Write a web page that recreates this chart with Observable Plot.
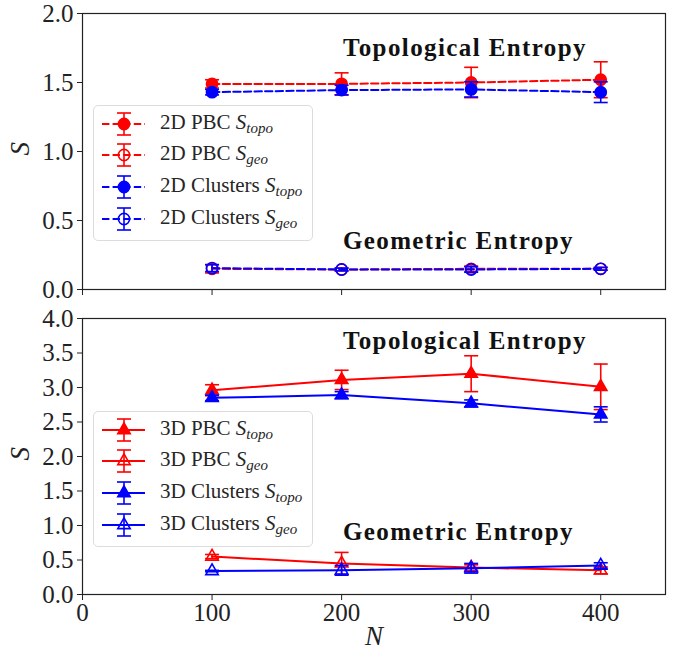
<!DOCTYPE html>
<html><head><meta charset="utf-8">
<script src="https://cdn.jsdelivr.net/npm/d3@7"></script>
<script src="https://cdn.jsdelivr.net/npm/@observablehq/plot@0.6"></script>
<style>
body{margin:0;background:#fff;}
#wrap{position:relative;width:674px;height:653px;font-family:"Liberation Serif",serif;}
#wrap svg.plot{display:block;}
.legend{position:absolute;left:93px;width:220px;height:136px;background:rgba(255,255,255,0.85);border:1px solid #dcdcdc;border-radius:5px;box-sizing:border-box;}
.row{position:absolute;left:0;width:220px;height:30px;}
.row svg{position:absolute;left:0;top:0;}
.lab{position:absolute;left:66px;top:2px;font-size:21px;line-height:22px;color:#262626;white-space:nowrap;font-family:"Liberation Serif",serif;}
.lab i sub{font-size:15px;vertical-align:-4px;}
</style></head>
<body>
<div id="wrap"></div>
<script>
// ---------- data ----------
const N = [100, 200, 300, 400];
const xTicks = [0, 100, 200, 300, 400];
const yTicksTop = [0, 0.5, 1.0, 1.5, 2.0];
const yTicksBottom = [0, 0.5, 1.0, 1.5, 2.0, 2.5, 3.0, 3.5, 4.0];

const pbc2dTopo    = [1.49, 1.49, 1.50, 1.52];
const pbc2dTopoErr = [0.03, 0.08, 0.11, 0.13];
const pbc2dGeo     = [0.15, 0.145, 0.15, 0.15];
const pbc2dGeoErr  = [0.03, 0.01, 0.02, 0.01];
const cl2dTopo     = [1.43, 1.445, 1.45, 1.43];
const cl2dTopoErr  = [0.02, 0.035, 0.055, 0.075];
const cl2dGeo      = [0.155, 0.145, 0.145, 0.15];
const cl2dGeoErr   = [0.025, 0.01, 0.02, 0.01];

const pbc3dTopo    = [2.96, 3.11, 3.20, 3.01];
const pbc3dTopoErr = [0.08, 0.14, 0.26, 0.33];
const pbc3dGeo     = [0.55, 0.45, 0.39, 0.35];
const pbc3dGeoErr  = [0.03, 0.16, 0.04, 0.05];
const cl3dTopo     = [2.85, 2.89, 2.77, 2.61];
const cl3dTopoErr  = [0.04, 0.05, 0.05, 0.11];
const cl3dGeo      = [0.34, 0.35, 0.38, 0.42];
const cl3dGeoErr   = [0.01, 0.07, 0.07, 0.04];

const legendTop = [
  {base: "2D PBC ", sub: "topo", color: "red", symbol: "circle", filled: true, dash: "7.4,3.2"},
  {base: "2D PBC ", sub: "geo", color: "red", symbol: "circle", filled: false, dash: "7.4,3.2"},
  {base: "2D Clusters ", sub: "topo", color: "blue", symbol: "circle", filled: true, dash: "7.4,3.2"},
  {base: "2D Clusters ", sub: "geo", color: "blue", symbol: "circle", filled: false, dash: "7.4,3.2"}
];
const legendBottom = [
  {base: "3D PBC ", sub: "topo", color: "red", symbol: "triangle", filled: true, dash: null},
  {base: "3D PBC ", sub: "geo", color: "red", symbol: "triangle", filled: false, dash: null},
  {base: "3D Clusters ", sub: "topo", color: "blue", symbol: "triangle", filled: true, dash: null},
  {base: "3D Clusters ", sub: "geo", color: "blue", symbol: "triangle", filled: false, dash: null}
];
const annoTexts = ["Topological Entropy", "Geometric Entropy"];

// ---------- helpers ----------
function series(xs, ys, es) {
  return xs.map((x, i) => ({x, y: ys[i], lo: ys[i] - es[i], hi: ys[i] + es[i]}));
}
const capSymbol = {
  draw(ctx, size) { const r = Math.sqrt(size / Math.PI); ctx.moveTo(-r, 0); ctx.lineTo(r, 0); }
};
function marksFor(d, color, symbol, filled, dash) {
  const r = symbol === "triangle" ? 4.6 : 5.6;
  return [
    Plot.line(d, {x: "x", y: "y", stroke: color, strokeWidth: 2, strokeDasharray: dash || undefined}),
    Plot.ruleX(d, {x: "x", y1: "lo", y2: "hi", stroke: color, strokeWidth: 1.6}),
    Plot.dot(d, {x: "x", y: "lo", symbol: capSymbol, r: 7, stroke: color, strokeWidth: 1.6}),
    Plot.dot(d, {x: "x", y: "hi", symbol: capSymbol, r: 7, stroke: color, strokeWidth: 1.6}),
    Plot.dot(d, {x: "x", y: "y", symbol, r, fill: filled ? color : "none", stroke: color, strokeWidth: 1.6})
  ];
}
const font = {fontFamily: "'Liberation Serif', serif", background: "white", color: "#222", overflow: "visible"};
const dash2d = "7.4,3.2";

// ---------- top panel ----------
const topPlot = Plot.plot({
  width: 674, height: 300,
  marginLeft: 82, marginRight: 9, marginTop: 13, marginBottom: 11,
  style: font,
  x: {domain: [0, 450]},
  y: {domain: [0, 2]},
  marks: [
    Plot.frame({stroke: "#222", strokeWidth: 1.2}),
    Plot.axisY({ticks: yTicksTop, tickFormat: d3.format(".1f"), tickSize: 5, tickPadding: 4, fontSize: 25, label: null}),
    Plot.axisX({ticks: xTicks, tickFormat: () => "", tickSize: 6, label: null}),
    Plot.text(["S"], {frameAnchor: "left", dx: -62, dy: 4, rotate: -90, fontStyle: "italic", fontSize: 27, lineAnchor: "middle"}),
    ...marksFor(series(N, pbc2dTopo, pbc2dTopoErr), "red", "circle", true, dash2d),
    ...marksFor(series(N, pbc2dGeo, pbc2dGeoErr), "red", "circle", false, dash2d),
    ...marksFor(series(N, cl2dTopo, cl2dTopoErr), "blue", "circle", true, dash2d),
    ...marksFor(series(N, cl2dGeo, cl2dGeoErr), "blue", "circle", false, dash2d),
    Plot.text([annoTexts[0]], {x: 201, y: 1.75, textAnchor: "start", fontWeight: "bold", fontSize: 25, fill: "#111"}),
    Plot.text([annoTexts[1]], {x: 201, y: 0.355, textAnchor: "start", fontWeight: "bold", fontSize: 25, fill: "#111"})
  ]
});

// ---------- bottom panel ----------
const bottomPlot = Plot.plot({
  width: 674, height: 353,
  marginLeft: 82, marginRight: 9, marginTop: 18, marginBottom: 59,
  style: font,
  x: {domain: [0, 450]},
  y: {domain: [0, 4]},
  marks: [
    Plot.frame({stroke: "#222", strokeWidth: 1.2}),
    Plot.axisY({ticks: yTicksBottom, tickFormat: d3.format(".1f"), tickSize: 5, tickPadding: 4, fontSize: 25, label: null}),
    Plot.axisX({ticks: xTicks, tickFormat: d => String(d), tickSize: 6, tickPadding: 3, fontSize: 25, label: null}),
    Plot.text(["S"], {frameAnchor: "left", dx: -62, dy: 4, rotate: -90, fontStyle: "italic", fontSize: 27, lineAnchor: "middle"}),
    Plot.text(["N"], {frameAnchor: "bottom", dy: 42, fontStyle: "italic", fontSize: 27, lineAnchor: "middle"}),
    ...marksFor(series(N, pbc3dTopo, pbc3dTopoErr), "red", "triangle", true, null),
    ...marksFor(series(N, pbc3dGeo, pbc3dGeoErr), "red", "triangle", false, null),
    ...marksFor(series(N, cl3dTopo, cl3dTopoErr), "blue", "triangle", true, null),
    ...marksFor(series(N, cl3dGeo, cl3dGeoErr), "blue", "triangle", false, null),
    Plot.text([annoTexts[0]], {x: 201, y: 3.68, textAnchor: "start", fontWeight: "bold", fontSize: 25, fill: "#111"}),
    Plot.text([annoTexts[1]], {x: 201, y: 0.91, textAnchor: "start", fontWeight: "bold", fontSize: 25, fill: "#111"})
  ]
});

const wrap = document.getElementById("wrap");
for (const svg of [topPlot, bottomPlot]) {
  svg.classList.add("plot");
  d3.select(svg).selectAll('g[aria-label="text"] text')
    .filter(function() { return annoTexts.includes(this.textContent); })
    .attr("letter-spacing", "1.4px");
  wrap.appendChild(svg);
}

// ---------- legends ----------
function symbolPath(sym, r) {
  const type = sym === "triangle" ? d3.symbolTriangle : d3.symbolCircle;
  return d3.symbol(type, r * r * Math.PI)();
}
function buildLegend(items, topPx) {
  const box = document.createElement("div");
  box.className = "legend";
  box.style.top = topPx + "px";
  const rowsY = [18, 49, 81, 113];
  items.forEach((it, i) => {
    const row = document.createElement("div");
    row.className = "row";
    row.style.top = (rowsY[i] - 15) + "px";
    const r = it.symbol === "triangle" ? 4.6 : 5.6;
    const cx = 30, cy = 15;
    const s = d3.create("svg").attr("width", 60).attr("height", 30);
    s.append("line").attr("x1", 8).attr("x2", 51).attr("y1", cy).attr("y2", cy)
      .attr("stroke", it.color).attr("stroke-width", 2).attr("stroke-dasharray", it.dash);
    s.append("line").attr("x1", cx).attr("x2", cx).attr("y1", cy - 11).attr("y2", cy + 11)
      .attr("stroke", it.color).attr("stroke-width", 1.6);
    for (const dy of [-11, 11]) {
      s.append("line").attr("x1", cx - 7).attr("x2", cx + 7).attr("y1", cy + dy).attr("y2", cy + dy)
        .attr("stroke", it.color).attr("stroke-width", 1.6);
    }
    s.append("path").attr("d", symbolPath(it.symbol, r)).attr("transform", `translate(${cx},${cy})`)
      .attr("fill", it.filled ? it.color : "none").attr("stroke", it.color).attr("stroke-width", 1.6);
    row.appendChild(s.node());
    const lab = document.createElement("div");
    lab.className = "lab";
    lab.innerHTML = `${it.base}<i>S<sub>${it.sub}</sub></i>`;
    row.appendChild(lab);
    box.appendChild(row);
  });
  wrap.appendChild(box);
}
buildLegend(legendTop, 105);
buildLegend(legendBottom, 411);
</script>
</body></html>
